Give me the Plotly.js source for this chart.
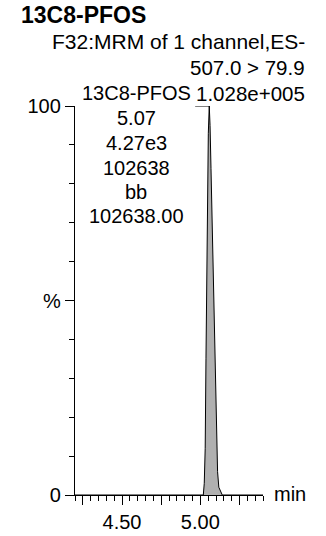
<!DOCTYPE html>
<html>
<head>
<meta charset="utf-8">
<script src="https://cdn.plot.ly/plotly-3.0.1.min.js"></script>
<style>
  html, body { margin: 0; padding: 0; background: #fff; }
  #chart { width: 326px; height: 536px; }
</style>
</head>
<body>
<div id="chart"></div>
<script>
// ---- data ----
const compoundName = "13C8-PFOS";
const channelLine1 = "F32:MRM of 1 channel,ES-";
const channelLine2 = "507.0 > 79.9";
const maxIntensityText = "1.028e+005";
const peakLabelLines = ["13C8-PFOS", "5.07", "4.27e3", "102638", "bb", "102638.00"];

// retention time (min) and relative intensity (%)
const timeMin = [4.20, 5.000, 5.019, 5.025, 5.031, 5.036, 5.041, 5.046, 5.051, 5.057,
                 5.062, 5.068, 5.074, 5.080, 5.086, 5.092, 5.098, 5.104, 5.110, 5.118, 5.127, 5.140, 5.40];
const intensityPct = [0, 0, 0, 3, 12, 35, 55, 78, 93, 100,
                      95, 84, 72, 60, 47, 34, 22, 12, 6, 2, 1, 0, 0];

const xTickVals = [4.25, 4.50, 4.75, 5.00, 5.25];
const xTickText = ["", "4.50", "", "5.00", ""];
const yTickVals = [0, 50, 100];
const yTickText = ["0", "%", "100"];

// ---- figure ----
const FONT = "Arial, 'Liberation Sans', sans-serif";
const apexIdx = intensityPct.indexOf(Math.max(...intensityPct));
const apexT = timeMin[apexIdx];

const traces = [
  {
    x: timeMin, y: intensityPct, type: "scatter", mode: "lines",
    line: { color: "#000", width: 1 },
    fill: "tozeroy", fillcolor: "#b0b0b0",
    cliponaxis: false, hoverinfo: "skip", showlegend: false
  },
  {
    x: [apexT - 0.09, apexT], y: [intensityPct[apexIdx], intensityPct[apexIdx]],
    type: "scatter", mode: "lines",
    line: { color: "#000", width: 1 }, cliponaxis: false,
    hoverinfo: "skip", showlegend: false
  }
];

// plot area: x 75..263 px, y 106..495 px
const L = 75, R = 263, T = 106, B = 495, W = 326, H = 536;
const px = v => (v - L) / (R - L);
const py = v => (B - v) / (B - T);

const ann = [];
function addText(text, xpx, ypx, anchor, size) {
  ann.push({
    text: text, xref: "paper", yref: "paper", x: px(xpx), y: py(ypx),
    xanchor: anchor, yanchor: "middle", showarrow: false,
    font: { family: FONT, size: size || 20, color: "#000" }
  });
}
addText(channelLine1, 307, 42, "right", 21);
addText(channelLine2, 307, 68, "right", 20.5);
addText(maxIntensityText, 307, 93, "right", 20.5);
const peakY = [93, 118, 143, 168, 192, 216];
peakLabelLines.forEach((t, i) => addText(t, 136, peakY[i], "center", 20));
addText("min", 272, 494, "left", 20);

const layout = {
  width: W, height: H,
  margin: { l: L, r: W - R, t: T, b: H - B, autoexpand: false },
  paper_bgcolor: "#fff", plot_bgcolor: "#fff",
  title: {
    text: "<b>" + compoundName + "</b>",
    x: 21 / W, xanchor: "left", xref: "container",
    y: 1 - 15 / H, yanchor: "middle", yref: "container",
    font: { family: FONT, size: 23, color: "#000" }
  },
  xaxis: {
    range: [4.20, 5.40], showgrid: false, zeroline: false,
    showline: true, linecolor: "#000", linewidth: 1,
    ticks: "outside", ticklen: 9, tickwidth: 1, tickcolor: "#000",
    tickvals: xTickVals, ticktext: xTickText,
    minor: { dtick: 0.05, tick0: 4.2, ticks: "outside", ticklen: 5, tickwidth: 1, tickcolor: "#000", showgrid: false },
    tickfont: { family: FONT, size: 20, color: "#000" }
  },
  yaxis: {
    range: [0, 100], showgrid: false, zeroline: false,
    showline: true, linecolor: "#000", linewidth: 1.2,
    ticks: "outside", ticklen: 9, tickwidth: 1, tickcolor: "#000",
    tickvals: yTickVals, ticktext: yTickText,
    minor: { dtick: 10, tick0: 0, ticks: "outside", ticklen: 5, tickwidth: 1, tickcolor: "#000", showgrid: false },
    tickfont: { family: FONT, size: 20, color: "#000" }
  },
  annotations: ann,
  showlegend: false
};

Plotly.newPlot("chart", traces, layout, { staticPlot: true, displayModeBar: false });
</script>
</body>
</html>
